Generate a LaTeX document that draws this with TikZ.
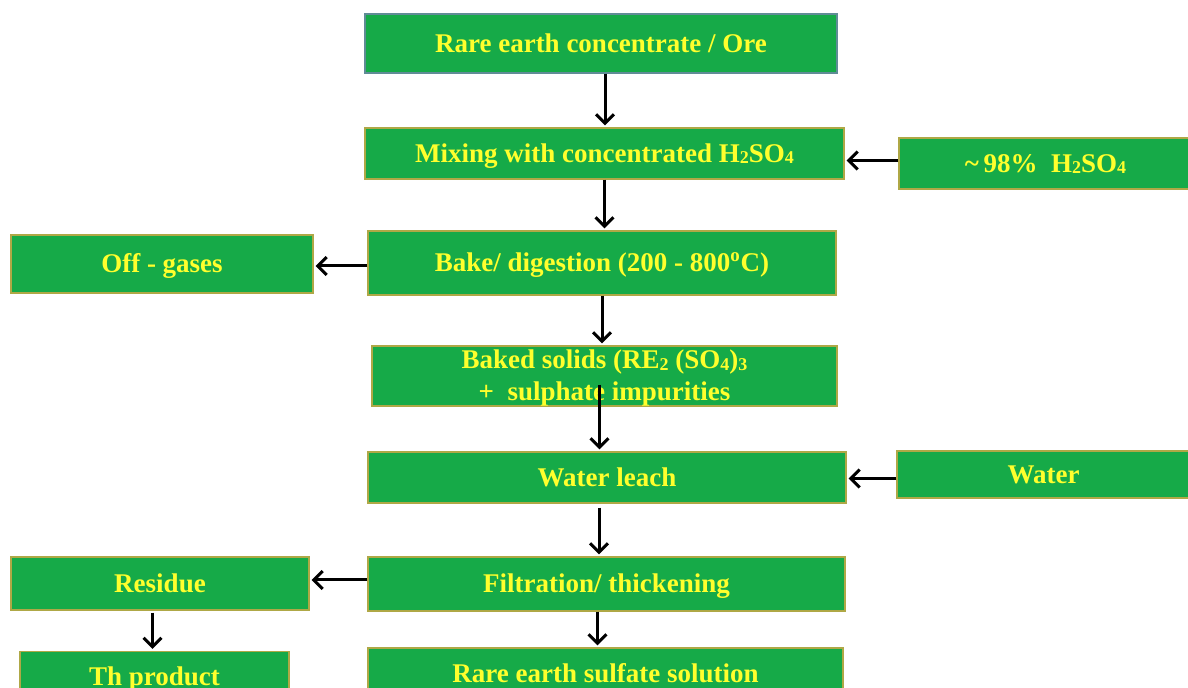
\documentclass[tikz,border=0pt]{standalone}
\usepackage{fontspec}
\setmainfont{Liberation Serif}
\usepackage{xcolor}
\usetikzlibrary{arrows.meta, calc}

\definecolor{boxgreen}{RGB}{22,170,72}
\definecolor{boxedge}{RGB}{175,168,70}
\definecolor{topedge}{RGB}{96,140,150}
\definecolor{labelyellow}{RGB}{255,255,45}

\newcommand{\chemsub}[1]{\raisebox{-0.6pt}{\fontsize{9}{9}\selectfont #1}}

\tikzset{
  stage/.style={rectangle, fill=boxgreen, draw=boxedge, line width=0.6pt,
    text=labelyellow, font=\fontsize{13.5}{16}\selectfont\bfseries,
    align=center, inner sep=0pt, text height=10pt, text depth=1pt},
  flow/.style={-{Straight Barb[length=4.5pt,width=9pt]}, line width=1.5pt,
    shorten >=1pt}
}

\begin{document}
\begin{tikzpicture}[x=0.5pt,y=-0.5pt]
				  \useasboundingbox (0,0) rectangle (1188,688);
				  % main column
				  \node[stage, draw=topedge, minimum width=236pt, minimum height=29.5pt] (ore) at (601,43.5) {Rare earth concentrate / Ore};
				  \node[stage, minimum width=239.5pt, minimum height=25.5pt] (mix) at (604.5,153.5) {Mixing with concentrated H\chemsub{2}SO\chemsub{4}};
				  \node[stage, minimum width=234pt, minimum height=32pt] (bake) at (602,263) {Bake/ digestion (200 - 800\textsuperscript{o}C)};
				  \node[stage, text height=26pt, minimum width=232.5pt, minimum height=30pt] (solids) at (604.5,376) {Baked solids (RE\chemsub{2} (SO\chemsub{4})\chemsub{3}\\+\ \ sulphate impurities};
				  \node[stage, minimum width=239pt, minimum height=25.5pt] (leach) at (607,477.5) {Water leach};
				  \node[stage, minimum width=238.5pt, minimum height=27pt] (filt) at (606.5,584) {Filtration/ thickening};
				  \node[stage, minimum width=237.5pt, minimum height=25.5pt] (sulf) at (605.5,673.5) {Rare earth sulfate solution};
				  % side boxes
				  \node[stage, minimum width=146.5pt, minimum height=25.5pt] (acid) at (1045.5,163.5) {\textasciitilde\,98\%\ \ H\chemsub{2}SO\chemsub{4}};
				  \node[stage, minimum width=146.5pt, minimum height=23.5pt] (water) at (1043.5,474.5) {Water};
				  \node[stage, minimum width=151pt, minimum height=29pt] (off) at (162,264) {Off - gases};
				  \node[stage, minimum width=149pt, minimum height=26.5pt] (res) at (160,583.5) {Residue};
				  \node[stage, minimum width=134.5pt, minimum height=25.5pt] (th) at (154.5,677) {Th product};
				  % arrows
				  \draw[flow] ($(ore.south)+(4,0)$) -- ($(ore.south |- mix.north)+(4,0)$);
				  \draw[flow] (mix.south) -- (mix.south |- bake.north);
				  \draw[flow] (bake.south) -- (bake.south |- solids.north);
				  \draw[flow] ($(solids.south)+(-5,-22)$) -- ($(solids.south |- leach.north)+(-5,0)$);
				  \draw[flow] ($(leach.south)+(-8,4)$) -- ($(leach.south |- filt.north)+(-8,0)$);
				  \draw[flow] ($(filt.south)+(-9,0)$) -- ($(filt.south |- sulf.north)+(-9,0)$);
				  \draw[flow] ($(th.north |- res.south)+(-2,2)$) -- ($(th.north)+(-2,0)$);
				  \draw[flow] ($(acid.west)+(0,-3)$) -- ($(acid.west -| mix.east)+(0,-3)$);
				  \draw[flow] ($(water.west)+(0,4)$) -- ($(water.west -| leach.east)+(0,4)$);
				  \draw[flow] ($(bake.west)+(0,3)$) -- ($(bake.west -| off.east)+(0,3)$);
				  \draw[flow] ($(filt.west)+(0,-4)$) -- ($(filt.west -| res.east)+(0,-4)$);
				\end{tikzpicture}
\end{document}
